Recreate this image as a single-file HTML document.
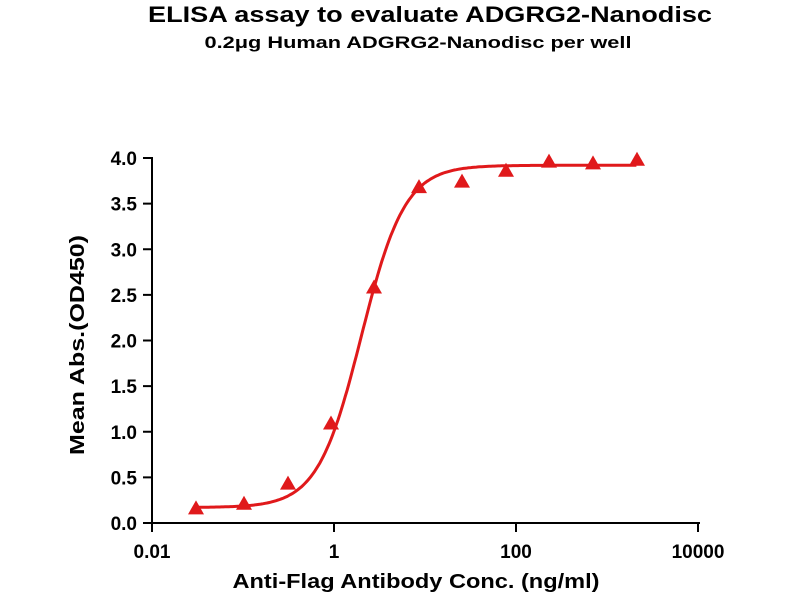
<!DOCTYPE html>
<html><head><style>
body{margin:0;background:#fff;}
svg text{font-family:"Liberation Sans",Arial,sans-serif;font-weight:bold;fill:#000;}
</style></head><body>
<svg id="s" width="800" height="600" xmlns="http://www.w3.org/2000/svg">
<text x="430" y="22" font-size="22" text-anchor="middle" textLength="564" lengthAdjust="spacingAndGlyphs">ELISA assay to evaluate ADGRG2-Nanodisc</text>
<text x="418" y="48" font-size="17" text-anchor="middle" textLength="427" lengthAdjust="spacingAndGlyphs">0.2μg Human ADGRG2-Nanodisc per well</text>
<g stroke="#000" stroke-width="2" fill="none">
<line x1="152" y1="157" x2="152" y2="523"/>
<line x1="151" y1="523" x2="700" y2="523"/>
<g id="yt"></g><g id="xt"></g>
</g>
<g id="lab" font-size="19"></g>
<text x="416" y="588" font-size="20" text-anchor="middle" textLength="367" lengthAdjust="spacingAndGlyphs">Anti-Flag Antibody Conc. (ng/ml)</text>
<text transform="translate(84,345) rotate(-90)" font-size="20" text-anchor="middle" textLength="220" lengthAdjust="spacingAndGlyphs">Mean Abs.(OD450)</text>
<path id="c" fill="none" stroke="#e0191b" stroke-width="3"/>
<g id="pts" fill="#e0191b"></g>
</svg>
<script>
const X=l=>152+(l+2)*91, Y=v=>523-v*91.25;
let yt='',lab='',xt='';
for(let i=0;i<=8;i++){const v=i*0.5,y=Y(v);yt+=`<line x1="143" y1="${y}" x2="152" y2="${y}"/>`;lab+=`<text x="137" y="${y+7}" text-anchor="end">${v.toFixed(1)}</text>`;}
[[-2,'0.01'],[0,'1'],[2,'100'],[4,'10000']].forEach(([l,t])=>{const x=X(l);xt+=`<line x1="${x}" y1="523" x2="${x}" y2="532"/>`;lab+=`<text x="${x}" y="558" text-anchor="middle">${t}</text>`;});
document.getElementById('yt').innerHTML=yt;document.getElementById('xt').innerHTML=xt;document.getElementById('lab').innerHTML=lab;
const f=l=>0.17+(3.92-0.17)/(1+Math.pow(10,(0.30-l)*1.81));
let d='';const l0=(196-152)/91-2,l1=(637-152)/91-2;for(let l=l0;l<=l1+0.001;l+=0.02){d+=(d?'L':'M')+X(l).toFixed(1)+','+Y(f(l)).toFixed(1);}
document.getElementById('c').setAttribute('d',d);
const px=[196,244,288,331,374,419,462,506,549,593,637],py=[0.15,0.2,0.42,1.08,2.57,3.67,3.73,3.85,3.95,3.93,3.97];
let p='';px.forEach((x,i)=>{const y=Y(py[i]);p+=`<polygon points="${x},${y-9} ${x-8},${y+5} ${x+8},${y+5}"/>`;});
document.getElementById('pts').innerHTML=p;
</script>
</body></html>
